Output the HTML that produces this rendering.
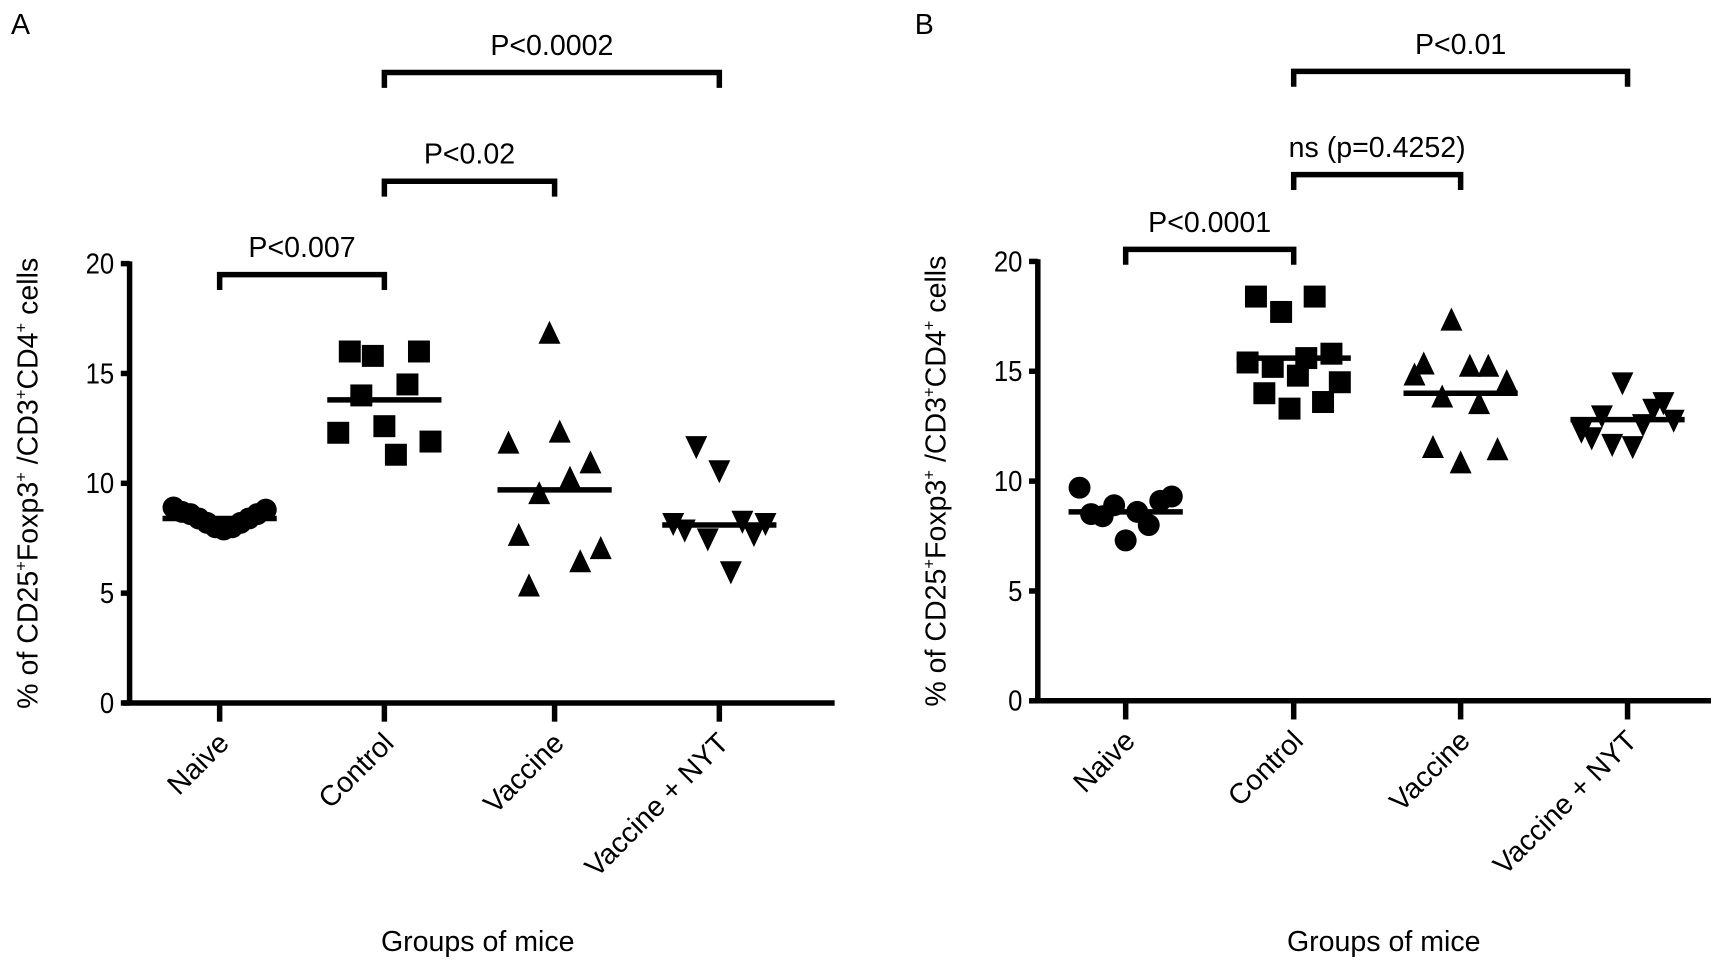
<!DOCTYPE html>
<html><head><meta charset="utf-8"><style>
html,body{margin:0;padding:0;background:#fff;}
svg{display:block;font-family:"Liberation Sans",Arial,sans-serif;}
</style></head><body>
<svg id="fig" width="1722" height="971" viewBox="0 0 1568 884" preserveAspectRatio="none" xmlns="http://www.w3.org/2000/svg">
<rect width="1568" height="884" fill="#fff"/>
</svg>
<script>
const categories = ["Naive","Control","Vaccine","Vaccine + NYT"];
const yTicks = [0,5,10,15,20];
const aNaive = [8.9,8.7,8.6,8.4,8.2,8.0,7.9,8.0,8.2,8.4,8.6,8.8];
const aControl = [12.3,16.0,14.0,15.8,12.6,11.3,14.5,16.0,11.9];
const aVaccine = [11.8,7.6,5.3,9.5,16.8,12.3,10.2,6.4,10.9,7.0];
const aNyt = [8.2,7.9,11.7,7.5,10.6,6.0,8.3,7.7,8.2];
const aMeans = [8.4,13.8,9.7,8.1];
const bNaive = [9.7,8.5,8.4,8.9,7.3,8.6,8.0,9.1,9.3];
const bControl = [15.4,18.4,14.0,15.2,17.7,13.3,14.8,15.6,18.4,13.6,15.8,14.5];
const bVaccine = [14.8,15.3,11.5,13.8,17.3,10.8,15.2,13.5,15.2,11.4,14.5];
const bNyt = [12.3,12.0,13.0,11.7,14.5,11.6,12.6,13.3,13.6,12.8];
const bMeans = [8.6,15.6,14.0,12.8];
const aBrackets = [[0,1,"P<0.007"],[1,2,"P<0.02"],[1,3,"P<0.0002"]];
const bBrackets = [[0,1,"P<0.0001"],[1,2,"ns (p=0.4252)"],[1,3,"P<0.01"]];

const NS="http://www.w3.org/2000/svg";
const svg=document.getElementById('fig');
function mk(tag,attrs,parent){const e=document.createElementNS(NS,tag);for(const k in attrs)e.setAttribute(k,attrs[k]);(parent||svg).appendChild(e);return e;}

function panel(cfg){
  const g=mk('g',{});
  
  
  const y=v=>cfg.y0-(cfg.y0-cfg.y20)*v/20;
  const x=i=>cfg.cx[i];
  const ax=mk('path',{d:`M${cfg.ax} ${y(20)-2} V${cfg.y0} M${cfg.ax-6} ${cfg.y0} H${cfg.axEnd}`,stroke:'#000','stroke-width':5,fill:'none'},g);
  
  
  yTicks.forEach(t=>{
    mk('line',{x1:cfg.ax-8,x2:cfg.ax,y1:y(t),y2:y(t),stroke:'#000','stroke-width':5},g);
    const tl=mk('text',{x:cfg.ax-14,y:y(t)+9,'text-anchor':'end','font-size':26,transform:`translate(${(cfg.ax-14)*0.1},0) scale(0.9,1)`},g);
    tl.textContent=t;
    
    
  });
  categories.forEach((c,i)=>{
    mk('line',{x1:x(i),x2:x(i),y1:cfg.y0,y2:cfg.y0+17,stroke:'#000','stroke-width':5},g);
    const t=mk('text',{transform:`translate(${x(i)+10},${cfg.y0+38}) rotate(-45)`,'text-anchor':'end','font-size':26},g);
    t.textContent=c;
    
    
  });
  const yt=mk('text',{transform:`translate(${cfg.ax-84},${(cfg.y0+cfg.y20)/2}) rotate(-90)`,'text-anchor':'middle','font-size':26},g);
  yt.innerHTML='% of CD25<tspan dy="-10" font-size="15">+</tspan><tspan dy="10">Foxp3</tspan><tspan dy="-10" font-size="15">+</tspan><tspan dy="10"> /CD3</tspan><tspan dy="-10" font-size="15">+</tspan><tspan dy="10">CD4</tspan><tspan dy="-10" font-size="15">+</tspan><tspan dy="10"> cells</tspan>';
  
  
  const xt=mk('text',{x:cfg.titleX,y:866,'text-anchor':'middle','font-size':26},g);
  xt.textContent='Groups of mice';
  
  
  const pl=mk('text',{x:cfg.letterX,y:31,'font-size':26},g);
  pl.textContent=cfg.letter;
  
  
  cfg.series.forEach((vals,i)=>{
    const n=vals.length;
    vals.forEach((v,k)=>{
      const off=n>1?(k/(n-1)-0.5)*2*cfg.spread:0;
      const px=x(i)+off, py=y(v);
      let m;
      const s=10;
      if(i===0) m=mk('circle',{cx:px,cy:py,r:s},g);
      else if(i===1) m=mk('rect',{x:px-s,y:py-s,width:2*s,height:2*s},g);
      else if(i===2) m=mk('polygon',{points:`${px},${py-s-2} ${px-s},${py+s-1} ${px+s},${py+s-1}`},g);
      else m=mk('polygon',{points:`${px},${py+s+2} ${px-s},${py-s+1} ${px+s},${py-s+1}`},g);
      m.setAttribute('fill','#000');
      
      
    });
    const ml=mk('line',{x1:x(i)-52,x2:x(i)+52,y1:y(cfg.means[i]),y2:y(cfg.means[i]),stroke:'#000','stroke-width':5},g);
    
    
  });
  cfg.brackets.forEach((b,j)=>{
    const by=cfg.by[j];
    const br=mk('path',{d:`M${x(b[0])} ${by+14} V${by} H${x(b[1])} V${by+14}`,stroke:'#000','stroke-width':5,fill:'none'},g);
    
    
    const bt=mk('text',{x:(x(b[0])+x(b[1]))/2,y:by-16,'text-anchor':'middle','font-size':26},g);
    bt.textContent=b[2];
    
    
  });
}
panel({name:'panel-a',letter:'A',letterX:10,ax:118,axEnd:760,y0:640,y20:240,cx:[200,350,505,655],
  series:[aNaive,aControl,aVaccine,aNyt],means:aMeans,brackets:aBrackets,by:[250,165,66],titleX:435,spread:42});
panel({name:'panel-b',letter:'B',letterX:833,ax:945,axEnd:1558,y0:638,y20:238,cx:[1025,1178,1330,1482],
  series:[bNaive,bControl,bVaccine,bNyt],means:bMeans,brackets:bBrackets,by:[227,159,65],titleX:1260,spread:42});
</script>
</body></html>
